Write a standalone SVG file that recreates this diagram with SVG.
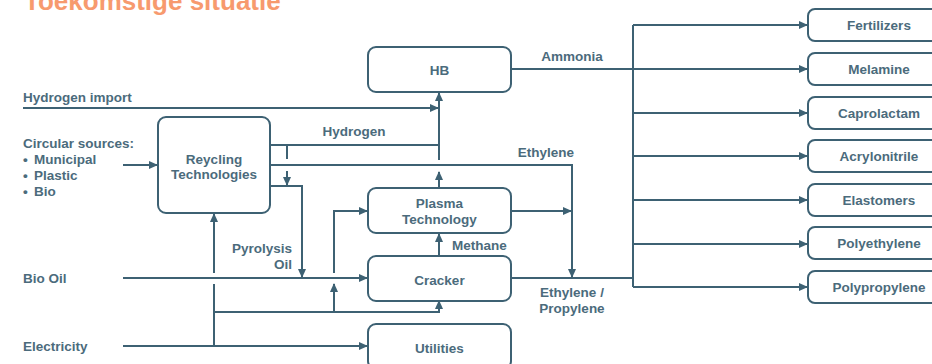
<svg xmlns="http://www.w3.org/2000/svg" width="932" height="364" viewBox="0 0 932 364">
<defs>
<marker id="ah" markerWidth="9" markerHeight="8" refX="8" refY="4" orient="auto" markerUnits="userSpaceOnUse"><path d="M0,0 L9,4 L0,8 z" fill="#3d6173"/></marker>
<style>
.ln{fill:none;stroke:#3d6173;stroke-width:2}
.ar{marker-end:url(#ah)}
.bx{fill:#fff;stroke:#3d6173;stroke-width:2}
text{font-family:"Liberation Sans",Arial,sans-serif;font-weight:bold;font-size:13.5px;fill:#4b6b7c}
.c{text-anchor:middle}
.e{text-anchor:end}
.title{font-size:26px;fill:#f79a6e}
</style>
</defs>
<rect width="932" height="364" fill="#fff"/>
<text class="title" x="24" y="10">Toekomstige situatie</text>

<g id="connectors">
<path class="ln ar" d="M23,108 H438"/>
<path class="ln ar" d="M439,160 V93"/>
<path class="ln ar" d="M439,188 V172"/>
<path class="ln" d="M270,145 H439"/>
<path class="ln" d="M287,145 V159"/>
<path class="ln ar" d="M287,171 V185"/>
<path class="ln ar" d="M270,165 H572 V277"/>
<path class="ln ar" d="M270,186 H302 V277"/>
<path class="ln ar" d="M123,165 H157"/>
<path class="ln ar" d="M123,278 H367"/>
<path class="ln ar" d="M123,346 H367"/>
<path class="ln" d="M214,346 V284"/>
<path class="ln ar" d="M214,273 V214"/>
<path class="ln ar" d="M214,312 H439 V301"/>
<path class="ln ar" d="M334,312 V284"/>
<path class="ln ar" d="M334,273 V211 H367"/>
<path class="ln ar" d="M439,256 V234"/>
<path class="ln ar" d="M511,211 H571"/>
<path class="ln" d="M511,278 H633"/>
<path class="ln ar" d="M511,69 H807"/>
<path class="ln" d="M633,25 V287"/>
<path class="ln ar" d="M633,25 H807"/>
<path class="ln ar" d="M633,113 H807"/>
<path class="ln ar" d="M633,156 H807"/>
<path class="ln ar" d="M633,200 H807"/>
<path class="ln ar" d="M633,244 H807"/>
<path class="ln ar" d="M633,287 H807"/>
</g>

<g id="labels">
<text x="23" y="102">Hydrogen import</text>
<text x="23" y="148">Circular sources:</text>
<text x="23" y="164">•</text><text x="34" y="164">Municipal</text>
<text x="23" y="180">•</text><text x="34" y="180">Plastic</text>
<text x="23" y="196">•</text><text x="34" y="196">Bio</text>
<text x="23" y="283">Bio Oil</text>
<text x="23" y="351">Electricity</text>
<text class="c" x="354" y="136">Hydrogen</text>
<text class="c" x="572" y="61">Ammonia</text>
<text class="c" x="546" y="157">Ethylene</text>
<text class="c" x="572" y="297">Ethylene /</text>
<text class="c" x="572" y="313">Propylene</text>
<text x="452" y="250">Methane</text>
<text class="e" x="292" y="253">Pyrolysis</text>
<text class="e" x="292" y="269">Oil</text>
</g>

<g id="recycling"><rect class="bx" x="158" y="117" width="112" height="96" rx="8"/><text class="c" x="214" y="164">Reycling</text><text class="c" x="214" y="179">Technologies</text></g>
<g id="hb"><rect class="bx" x="368" y="47" width="143" height="45" rx="8"/><text class="c" x="439.5" y="75">HB</text></g>
<g id="plasma"><rect class="bx" x="368" y="188" width="143" height="45" rx="8"/><text class="c" x="439.5" y="208">Plasma</text><text class="c" x="439.5" y="224">Technology</text></g>
<g id="cracker"><rect class="bx" x="368" y="256" width="143" height="45" rx="8"/><text class="c" x="439.5" y="285">Cracker</text></g>
<g id="utilities"><rect class="bx" x="368" y="324" width="143" height="45" rx="8"/><text class="c" x="439.5" y="353">Utilities</text></g>

<g id="fertilizers"><rect class="bx" x="808" y="9" width="142" height="32" rx="7"/><text class="c" x="879" y="30">Fertilizers</text></g>
<g id="melamine"><rect class="bx" x="808" y="53" width="142" height="32" rx="7"/><text class="c" x="879" y="74">Melamine</text></g>
<g id="caprolactam"><rect class="bx" x="808" y="97" width="142" height="32" rx="7"/><text class="c" x="879" y="118">Caprolactam</text></g>
<g id="acrylonitrile"><rect class="bx" x="808" y="140" width="142" height="32" rx="7"/><text class="c" x="879" y="161">Acrylonitrile</text></g>
<g id="elastomers"><rect class="bx" x="808" y="184" width="142" height="32" rx="7"/><text class="c" x="879" y="205">Elastomers</text></g>
<g id="polyethylene"><rect class="bx" x="808" y="227" width="142" height="32" rx="7"/><text class="c" x="879" y="248">Polyethylene</text></g>
<g id="polypropylene"><rect class="bx" x="808" y="271" width="142" height="32" rx="7"/><text class="c" x="879" y="292">Polypropylene</text></g>
</svg>
